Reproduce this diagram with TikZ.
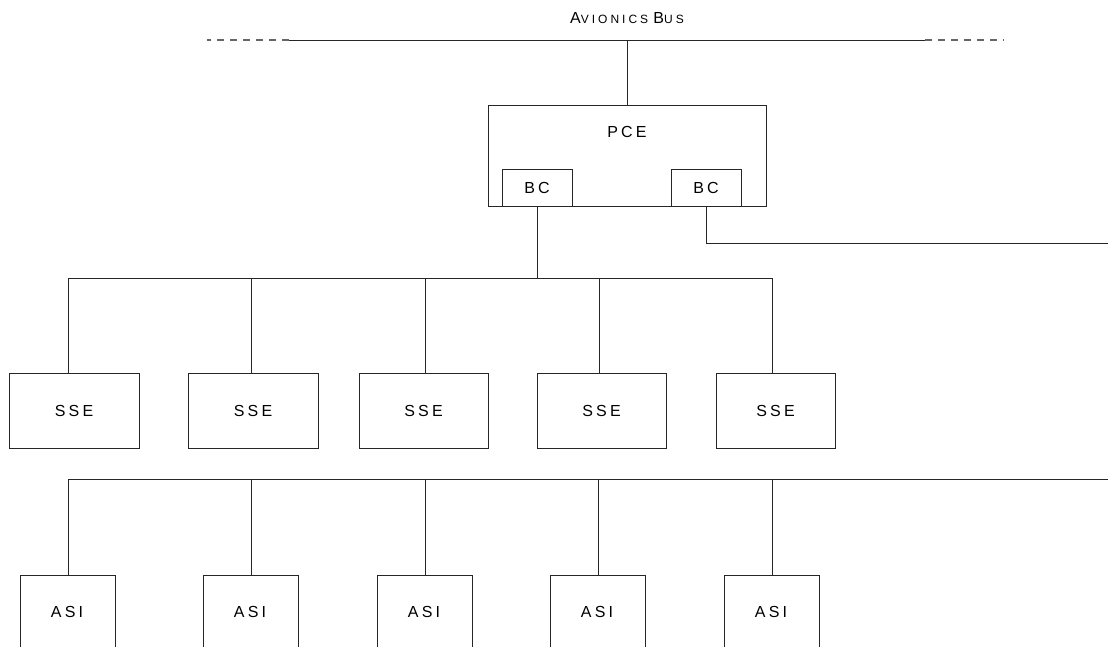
\documentclass[tikz,border=0pt]{standalone}
\usepackage{fontspec}
\setmainfont{Liberation Sans}
\newfontfamily\spacedfont[LetterSpace=20]{Liberation Sans}
\newfontfamily\capsfont[LetterSpace=25]{Liberation Sans}
\begin{document}
\begin{tikzpicture}[x=1pt,y=-1pt,
  wire/.style={draw=black!85,line width=1pt},
  box/.style={wire,fill=white,rectangle,inner sep=0pt},
  lbl/.style={inner sep=0pt,font=\fontsize{16}{16}\spacedfont},
  buslbl/.style={inner sep=0pt}]
\clip (0,0) rectangle (1112,646);
\fill[white] (0,0) rectangle (1112,646);

% avionics bus
\node[buslbl] (title) at (627,18) {\capsfont{\fontsize{16}{16}\selectfont A}{\fontsize{12}{12}\selectfont VIONICS} {\fontsize{16}{16}\selectfont B}{\fontsize{12}{12}\selectfont US}};
\coordinate (busL0) at (207,40);
\coordinate (busL) at (289,40);
\coordinate (busR) at (925,40);
\coordinate (busR0) at (1004,40);
\coordinate (busT) at (627,40);
\draw[wire] (busL) -- (busR);
\draw[wire,draw=black!60,line width=1.3pt,dash pattern=on 7pt off 6pt] (busL) -- (busL0);
\draw[wire,draw=black!60,line width=1.3pt,dash pattern=on 7pt off 6pt] (busR) -- (busR0);

% PCE with its two bus controllers
\node[box,minimum width=278,minimum height=101] (pce) at (627,155.5) {};
\node[lbl] (pcelbl) at (627,132) {PCE};
\node[box,minimum width=70,minimum height=37] (bc1) at (537,187.5) {};
\node[lbl] at (bc1) {BC};
\node[box,minimum width=70,minimum height=37] (bc2) at (706,187.5) {};
\node[lbl] at (bc2) {BC};
\draw[wire] (busT) -- (pce.north);

% second controller line running off to the right
\coordinate (bc2turn) at (706,243);
\coordinate (bc2end) at (1108,243);
\draw[wire] (bc2.south) -- (bc2turn) -- (bc2end);

% SSE bus
\coordinate (sbus) at (537,278);
\coordinate (sL) at (68,278);
\coordinate (sR) at (772,278);
\draw[wire] (bc1.south) -- (sbus);
\draw[wire] (sL) -- (sR);

\node[box,minimum width=130,minimum height=75] (sse1) at (74,410.5) {};
\node[box,minimum width=130,minimum height=75] (sse2) at (253,410.5) {};
\node[box,minimum width=129,minimum height=75] (sse3) at (423.5,410.5) {};
\node[box,minimum width=129,minimum height=75] (sse4) at (601.5,410.5) {};
\node[box,minimum width=119,minimum height=75] (sse5) at (775.5,410.5) {};
\foreach \n in {1,...,5} {\node[lbl] at (sse\n) {SSE};}
\foreach \n/\x in {1/68,2/251,3/425,4/599,5/772}
  \draw[wire] (\x,278) -- (\x,373);

% ASI bus
\coordinate (aL) at (68,479);
\coordinate (aR) at (1108,479);
\draw[wire] (aL) -- (aR);
\foreach \n/\x in {1/68,2/251,3/425,4/598,5/772} {
  \node[box,minimum width=95,minimum height=130] (asi\n) at (\x-0.5,640) {};
  \node[lbl] at (\x-1,612) {ASI};
  \draw[wire] (\x,479) -- (asi\n.north -| \x,0);
}
\end{tikzpicture}
\end{document}
